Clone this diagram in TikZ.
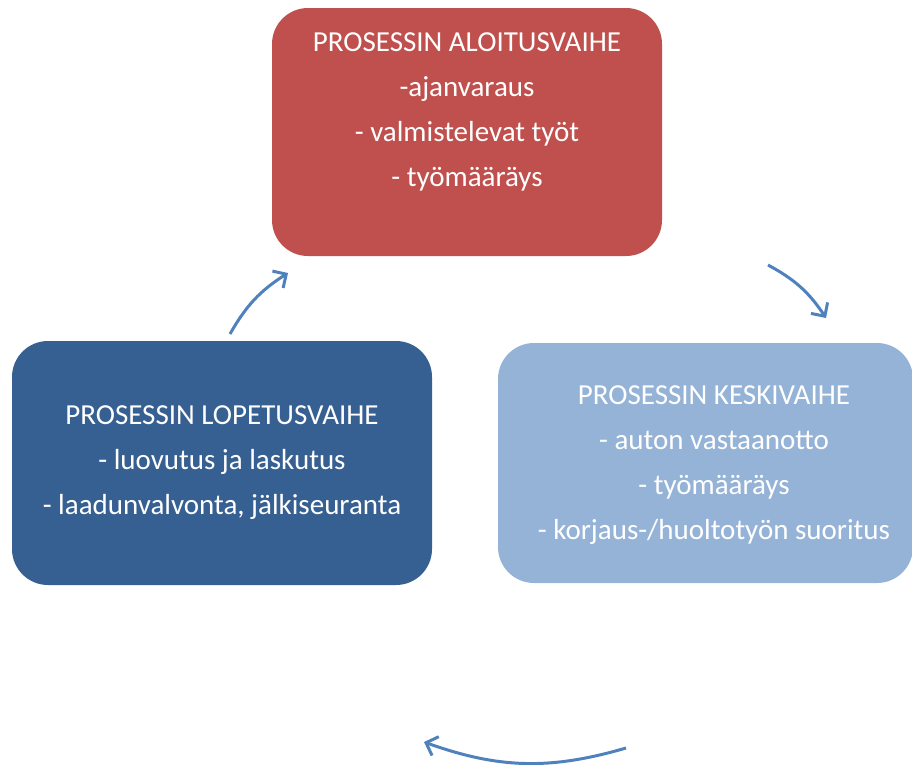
\documentclass[tikz,border=0pt]{standalone}
\usepackage{fontspec}
\setmainfont{Carlito}
\usetikzlibrary{arrows.meta}
\definecolor{cred}{HTML}{C0504D}
\definecolor{clight}{HTML}{95B3D7}
\definecolor{cdark}{HTML}{376092}
\definecolor{carrow}{HTML}{4F81BD}
\begin{document}
\begin{tikzpicture}[x=1pt,y=-1pt,
  phase/.style={rounded corners=36pt, text=white, align=center, font=\fontsize{29}{45}\selectfont},
  cyc/.style={draw=carrow, line width=3pt, -{Straight Barb[length=10pt,width=20pt,line width=3pt]}}]
\useasboundingbox (0,0) rectangle (912,764);
\fill[cred, rounded corners=36pt] (272,8) rectangle (662,256);
\node[phase] (alku) at (467,112) {PROSESSIN ALOITUSVAIHE\\-ajanvaraus\\- valmistelevat työt\\- työmääräys};
\fill[clight, rounded corners=36pt] (498,343) rectangle (913,583);
\node[phase] (keski) at (714,465) {PROSESSIN KESKIVAIHE\\- auton vastaanotto\\- työmääräys\\- korjaus-/huoltotyön suoritus};
\fill[cdark, rounded corners=36pt] (12,341) rectangle (432,585);
\node[phase] (loppu) at (222,463) {PROSESSIN LOPETUSVAIHE\\- luovutus ja laskutus\\- laadunvalvonta, jälkiseuranta};
\coordinate (a1s) at (230,334); \coordinate (a1e) at (288,273);
\coordinate (a2s) at (768,265); \coordinate (a2e) at (826,318);
\coordinate (a3s) at (626,748); \coordinate (a3e) at (424,742);
\draw[cyc] (a1s) to[bend left=14] (a1e);
\draw[cyc] (a2s) to[bend left=14] (a2e);
\draw[cyc] (a3s) to[bend left=18] (a3e);
\end{tikzpicture}
\end{document}
